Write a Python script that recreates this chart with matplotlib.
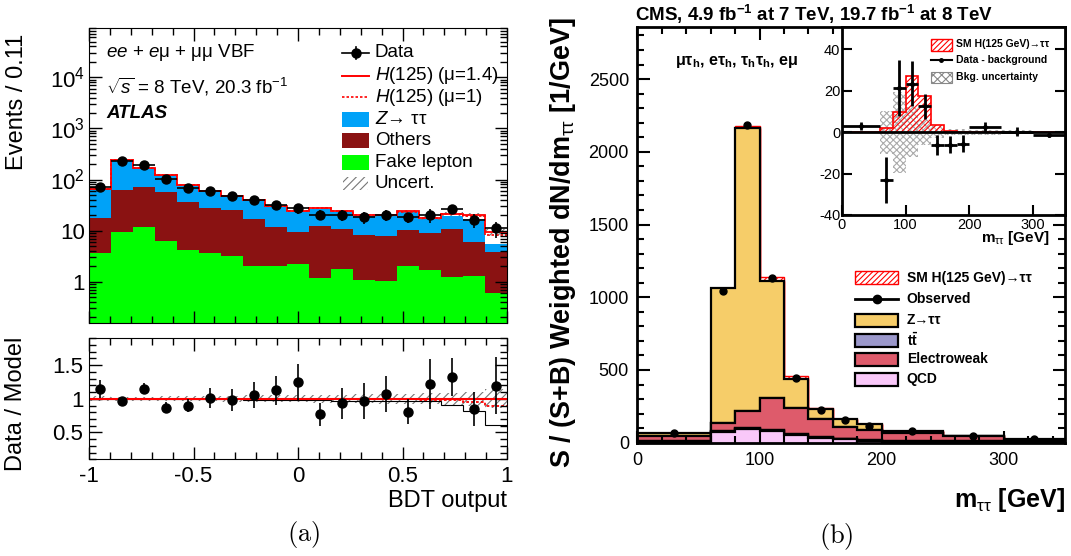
import numpy as np
import matplotlib
matplotlib.use('Agg')
import matplotlib.pyplot as plt
from matplotlib.patches import Rectangle
from matplotlib.lines import Line2D
from matplotlib.ticker import MultipleLocator, FixedLocator, FuncFormatter, LogLocator, NullFormatter

plt.rcParams['font.family'] = ['Liberation Sans', 'DejaVu Sans']
plt.rcParams['mathtext.fontset'] = 'custom'
plt.rcParams['mathtext.rm'] = 'Liberation Sans'
plt.rcParams['mathtext.it'] = 'Liberation Sans:italic'
plt.rcParams['mathtext.bf'] = 'Liberation Sans:bold'
plt.rcParams['axes.unicode_minus'] = False
plt.rcParams['hatch.linewidth'] = 0.8

# ---------------- data: (a) ATLAS BDT output ----------------
bdt_edges = np.linspace(-1, 1, 20)
fake = [3.6, 9.3, 12, 6.4, 4.2, 3.6, 3.2, 2.0, 2.0, 2.2, 1.2, 1.75, 1.1, 1.03, 2.0, 1.7, 1.25, 1.3, 0.59]
others = [13.9, 53.7, 58, 49.6, 32.8, 24.4, 21.8, 15, 9.6, 7.4, 11.2, 8.85, 7.1, 6.97, 8.3, 7.2, 9.35, 4.6, 3.31]
ztautau = [48.5, 177, 100, 66, 40, 32, 22, 22, 17.9, 13.9, 14.6, 12.9, 11.3, 11.5, 12.7, 8.1, 8.9, 10.8, 1.7]
higgs_mu1 = [0.3, 0.6, 0.5, 0.4, 0.4, 0.3, 0.3, 0.3, 0.3, 0.4, 0.5, 0.5, 0.5, 0.5, 0.6, 0.5, 1.3, 2.7, 2.6]
data_a = [70, 232, 194, 101, 67.6, 60, 47.9, 40, 31.9, 27.4, 20.3, 20.3, 18.3, 20.3, 18.3, 20.3, 26.6, 16.2, 11.1]
ratio_a = [1.145, 0.96, 1.15, 0.87, 0.90, 1.01, 0.985, 1.06, 1.125, 1.255, 0.77, 0.935, 0.97, 1.075, 0.81, 1.215, 1.325, 0.845, 1.195]
ratio_err = [0.13, 0.04, 0.08, 0.075, 0.10, 0.15, 0.16, 0.19, 0.21, 0.27, 0.17, 0.23, 0.27, 0.27, 0.18, 0.37, 0.285, 0.25, 0.425]
unc_rel = [0.04, 0.03, 0.03, 0.04, 0.04, 0.04, 0.045, 0.05, 0.05, 0.055, 0.06, 0.06, 0.065, 0.07, 0.075, 0.08, 0.09, 0.10, 0.14]
mu_fit = 1.4

# ---------------- data: (b) CMS m_tautau ----------------
m_edges = [0, 60, 80, 100, 120, 140, 160, 180, 200, 250, 300, 350]
qcd = [2, 76, 92, 80, 53, 32, 23, 14, 5, 3, 1]
ttbar = [12, 6, 8, 10, 8, 6, 4, 3, 10, 10, 5]
ewk = [30, 56, 120, 215, 180, 123, 83, 70, 50, 30, 12]
ztt_b = [20, 925, 1945, 809, 197, 72, 50, 39, 18, 5, 5]
sm_h = [0, 2, 10, 27, 17.5, 3.4, 0.6, 0, 0, 0, 0]
observed = [68, 1041, 2183, 1132, 445, 223, 154, 117, 80, 46, 23]
diff_b = [3, -23, 21.5, 23.5, 12.5, -6, -6, -5.5, 2.5, 0.3, -1.2]
diff_err = [2, 11, 13.5, 10.8, 6.2, 4.8, 4, 4, 2.5, 2, 1]
bkg_unc = [0.5, 10.5, 19.5, 12, 6, 3, 1.5, 1.5, 1.2, 1.0, 0.5]

W, H = 1071, 556
fig = plt.figure(figsize=(W / 100, H / 100), dpi=100)


def rect(l, t, r, b):
    return [l / W, 1 - b / H, (r - l) / W, (b - t) / H]


def fig_rect(x0, y0, x1, y1, **kw):
    fig.add_artist(Rectangle((x0 / W, 1 - y1 / H), (x1 - x0) / W, (y1 - y0) / H,
                             transform=fig.transFigure, **kw))


def fig_line(xs, ys, **kw):
    fig.add_artist(Line2D([x / W for x in xs], [1 - y / H for y in ys],
                          transform=fig.transFigure, **kw))


def fig_text(x, y, s, **kw):
    fig.text(x / W, 1 - y / H, s, **kw)


# ================= (a) top panel =================
e = bdt_edges
cen = 0.5 * (e[:-1] + e[1:])
hw = 0.5 * (e[1:] - e[:-1])
fk = np.array(fake)
ot = fk + np.array(others)
zt = ot + np.array(ztautau)
hg = np.array(higgs_mu1)
tot14 = zt + mu_fit * hg
tot1 = zt + hg
unc = np.array(unc_rel)

ax1 = fig.add_axes(rect(89, 28, 507, 323))
ax1.set_yscale('log')
ax1.set_xlim(-1, 1)
ax1.set_ylim(0.156, 9.2e4)
ax1.stairs(fk, e, baseline=1e-3, fill=True, color='#00ff00', lw=0)
ax1.stairs(ot, e, baseline=fk, fill=True, color='#8a1212', lw=0)
ax1.stairs(zt, e, baseline=ot, fill=True, color='#00a2f8', lw=0)
ax1.stairs(tot14 * (1 + unc), e, baseline=tot14 * (1 - unc), fill=True, facecolor='none',
           edgecolor='#777777', hatch='////', lw=0)
ax1.stairs(tot1, e, baseline=None, color='red', lw=1.2, ls=(0, (1.5, 1.2)))
ax1.stairs(tot14, e, baseline=None, color='red', lw=1.3)
d = np.array(data_a)
r = np.array(ratio_a)
derr = d * np.array(ratio_err) / r
ax1.errorbar(cen, d, yerr=derr, xerr=hw, fmt='o', color='k', ms=6.5, elinewidth=1.2, capsize=0)


def logfmt(v, p):
    if v == 1:
        return '1'
    if v == 10:
        return '10'
    return r'10$^{%d}$' % int(round(np.log10(v)))


ax1.yaxis.set_major_locator(FixedLocator([1, 10, 100, 1000, 1e4]))
ax1.yaxis.set_major_formatter(FuncFormatter(logfmt))
ax1.yaxis.set_minor_locator(LogLocator(base=10, subs=np.arange(2, 10)))
ax1.yaxis.set_minor_formatter(NullFormatter())
ax1.xaxis.set_major_locator(MultipleLocator(0.5))
ax1.xaxis.set_minor_locator(MultipleLocator(0.1))
ax1.tick_params(which='both', direction='in', top=True, right=True, labelbottom=False,
                labelsize=16, pad=3, width=1)
ax1.tick_params(which='major', length=9)
ax1.tick_params(which='minor', length=5)
ax1.set_ylabel('Events / 0.11', fontsize=17)

# texts
fig_text(106, 52.7, r'$ee$ + $e$μ + μμ VBF', fontsize=13.5, va='center')
fig_text(106, 87, r'$\sqrt{s}$ = 8 TeV, 20.3 fb$^{-1}$', fontsize=13.5, va='center')
fig_text(106, 113, 'ATLAS', fontsize=13.5, va='center', fontweight='bold', fontstyle='italic')

# legend (a)
lx0, lx1, tx = 342, 369, 375
rows = [52.7, 76, 97, 119.8, 140.5, 162.7, 183.8]
fig_line([lx0, lx1], [rows[0]] * 2, color='k', lw=1.2)
fig_line([355.5, 355.5], [rows[0] - 6, rows[0] + 6], color='k', lw=1.2)
fig_line([355.5], [rows[0]], color='k', marker='o', ms=6.5, lw=0)
fig_line([lx0, lx1], [rows[1]] * 2, color='red', lw=1.4)
fig_line([lx0, lx1], [rows[2]] * 2, color='red', lw=1.2, ls=(0, (1.5, 1.2)))
fig_rect(lx0, rows[3] - 7.5, lx1, rows[3] + 7.5, facecolor='#00a2f8', lw=0)
fig_rect(lx0, rows[4] - 7.5, lx1, rows[4] + 7.5, facecolor='#8a1212', lw=0)
fig_rect(lx0, rows[5] - 7.5, lx1, rows[5] + 7.5, facecolor='#00ff00', lw=0)
fig_rect(lx0 + 1, rows[6] - 6.5, lx1 - 1, rows[6] + 6.5, facecolor='none', edgecolor='#777777',
         hatch='////', lw=0)
labs = ['Data', r'$H$(125) (μ=1.4)', r'$H$(125) (μ=1)', r'$Z$→ ττ', 'Others', 'Fake lepton', 'Uncert.']
for y, s in zip(rows, labs):
    fig_text(tx, y, s, fontsize=13.5, va='center')

# ================= (a) ratio panel =================
ax2 = fig.add_axes(rect(89, 338.3, 507, 459.3))
ax2.set_xlim(-1, 1)
ax2.set_ylim(0.1, 1.9)
ax2.stairs(1 + unc, e, baseline=1 - unc, fill=True, facecolor='none', edgecolor='#777777',
           hatch='////', lw=0)
ax2.stairs(zt / tot14, e, baseline=None, color='k', lw=0.8)
ax2.stairs(tot1 / tot14, e, baseline=None, color='red', lw=1.3, ls=(0, (1.5, 1.2)))
ax2.axhline(1, color='red', lw=1.5)
ax2.errorbar(cen, r, yerr=ratio_err, fmt='o', color='k', ms=6.5, elinewidth=1.2, capsize=0)
ax2.xaxis.set_major_locator(MultipleLocator(0.5))
ax2.xaxis.set_minor_locator(MultipleLocator(0.1))
ax2.yaxis.set_major_locator(FixedLocator([0.5, 1, 1.5]))
ax2.yaxis.set_minor_locator(MultipleLocator(0.1))
ax2.xaxis.set_major_formatter(FuncFormatter(lambda v, p: '%g' % v))
ax2.yaxis.set_major_formatter(FuncFormatter(lambda v, p: '%g' % v))
ax2.tick_params(which='both', direction='in', top=True, right=True, labelsize=16, width=1)
ax2.tick_params(axis='x', pad=5)
ax2.tick_params(axis='y', pad=4)
ax2.tick_params(which='major', length=9)
ax2.tick_params(which='minor', length=5)
ax2.set_ylabel('Data / Model', fontsize=17)
ax2.set_xlabel('BDT output', fontsize=17, loc='right', labelpad=2)

# ================= (b) main panel =================
me = np.array(m_edges, dtype=float)
mc = 0.5 * (me[:-1] + me[1:])
mhw = 0.5 * (me[1:] - me[:-1])
c_q = np.array(qcd, dtype=float)
c_t = c_q + np.array(ttbar)
c_e = c_t + np.array(ewk)
c_z = c_e + np.array(ztt_b)
c_h = c_z + np.array(sm_h)

ax3 = fig.add_axes(rect(637.3, 26.7, 1065, 442.7))
ax3.set_xlim(0, 350)
ax3.set_ylim(0, 2860)
elw = 1.6
ax3.stairs(c_h, me, baseline=c_z, fill=True, facecolor='white', edgecolor='red', hatch='//////', lw=1.0)
ax3.stairs(c_z, me, baseline=c_e, fill=True, facecolor='#f6cd69', edgecolor='k', lw=elw)
ax3.stairs(c_e, me, baseline=c_t, fill=True, facecolor='#de5b6b', edgecolor='k', lw=elw)
ax3.stairs(c_t, me, baseline=c_q, fill=True, facecolor='#9b98cb', edgecolor='k', lw=elw)
ax3.stairs(c_q, me, baseline=0, fill=True, facecolor='#f9c8f9', edgecolor='k', lw=elw)
ax3.plot(mc, observed, 'o', color='k', ms=5)
ax3.xaxis.set_major_locator(MultipleLocator(100))
ax3.xaxis.set_minor_locator(MultipleLocator(20))
ax3.yaxis.set_major_locator(MultipleLocator(500))
ax3.yaxis.set_minor_locator(MultipleLocator(100))
ax3.tick_params(which='both', direction='in', top=True, right=True, labelsize=13, width=1.5)
ax3.tick_params(which='major', length=9)
ax3.tick_params(which='minor', length=5)
ax3.tick_params(axis='x', pad=7)
ax3.tick_params(axis='y', pad=6)
for s in ax3.spines.values():
    s.set_linewidth(2)
ax3.set_ylabel(r'S / (S+B) Weighted dN/dm$_{\mathrm{ττ}}$ [1/GeV]', fontsize=18, fontweight='bold')
ax3.set_xlabel(r'm$_{\mathrm{ττ}}$ [GeV]', fontsize=18, fontweight='bold', loc='right', labelpad=12)

fig_text(635, 14, r'CMS, 4.9 fb$^{\mathbf{-1}}$ at 7 TeV, 19.7 fb$^{\mathbf{-1}}$ at 8 TeV',
         fontsize=13.5, fontweight='bold', va='center', ha='left')
fig_text(675, 62, r'μτ$_{\mathbf{h}}$, eτ$_{\mathbf{h}}$, τ$_{\mathbf{h}}$τ$_{\mathbf{h}}$, eμ',
         fontsize=11.5, fontweight='bold', va='center', ha='left')

# legend (b)
bx0, bx1, btx = 855, 898, 906.7
brows = [277.7, 299.3, 320, 340, 359.3, 379]
fig_rect(bx0, brows[0] - 6.5, bx1, brows[0] + 6.5, facecolor='white', edgecolor='red', hatch='//////', lw=1.0)
fig_line([bx0, bx1], [brows[1]] * 2, color='k', lw=2)
fig_line([876.5], [brows[1]], color='k', marker='o', ms=6, lw=0)
for y, c in zip(brows[2:], ['#f6cd69', '#9b98cb', '#de5b6b', '#f9c8f9']):
    fig_rect(bx0, y - 6.5, bx1, y + 6.5, facecolor=c, edgecolor='k', lw=1.6)
blabs = ['SM H(125 GeV)→ττ', 'Observed', 'Z→ττ', r't$\mathbf{\bar{t}}$', 'Electroweak', 'QCD']
for y, s in zip(brows, blabs):
    fig_text(btx, y, s, fontsize=10, fontweight='bold', va='center')

# ================= (b) inset =================
ax4 = fig.add_axes(rect(841.7, 26.7, 1065, 215))
ax4.set_xlim(0, 350)
ax4.set_ylim(-40, 51)
bu = np.array(bkg_unc)
ax4.stairs(bu, me, baseline=-bu, fill=True, facecolor='white', edgecolor='#aaaaaa', hatch='xxxxx', lw=0)
ax4.stairs(sm_h, me, baseline=0, fill=True, facecolor='none', edgecolor='red', hatch='//////', lw=1.2)
ax4.axhline(0, color='k', lw=2)
ax4.errorbar(mc, diff_b, yerr=diff_err, xerr=mhw, fmt='o', color='k', ms=2.5, elinewidth=2, capsize=0)
ax4.xaxis.set_major_locator(MultipleLocator(100))
ax4.xaxis.set_minor_locator(MultipleLocator(20))
ax4.yaxis.set_major_locator(MultipleLocator(20))
ax4.yaxis.set_major_formatter(FuncFormatter(lambda v, p: '%g' % v))
ax4.tick_params(which='both', direction='in', top=False, right=True, labelsize=10.5, width=1.5)
ax4.tick_params(which='major', length=7)
ax4.tick_params(which='minor', length=0)
ax4.tick_params(axis='x', pad=2)
ax4.tick_params(axis='y', pad=1)
for s in ax4.spines.values():
    s.set_linewidth(2)
fig_text(1050, 238, r'm$_{\mathrm{ττ}}$ [GeV]', fontsize=11, fontweight='bold', va='center', ha='right')
# inset legend
ix0, ix1, itx = 930.7, 951.7, 956
fig_rect(ix0, 39.3, ix1, 50.7, facecolor='white', edgecolor='red', hatch='//////', lw=1.0)
fig_line([ix0, ix1], [60.3] * 2, color='k', lw=1.5)
fig_line([941.2], [60.3], color='k', marker='o', ms=2.5, lw=0)
fig_rect(ix0, 72, ix1, 83.3, facecolor='white', edgecolor='#888888', hatch='xxxx', lw=0.8)
for y, s in zip([44.3, 60.3, 77.3], ['SM H(125 GeV)→ττ', 'Data - background', 'Bkg. uncertainty']):
    fig_text(itx, y, s, fontsize=7.5, fontweight='bold', va='center')

# captions
fig_text(303.5, 535, r'$\mathrm{(a)}$', fontsize=19, ha='center', va='center', math_fontfamily='cm')
fig_text(836.7, 536.7, r'$\mathrm{(b)}$', fontsize=19, ha='center', va='center', math_fontfamily='cm')


# ---- place y labels given the pixel box they occupy in the reference
def place_ylabel(ax, right_px, top_px, bot_px, fit):
    lab = ax.yaxis.label
    pos = ax.get_position()
    axl, axh, axw = pos.x0 * W, pos.height * H, pos.width * W
    ax.yaxis.set_label_coords((right_px - axl) / axw, 0.5)
    fig.canvas.draw()
    bb = lab.get_window_extent()
    if fit:
        lab.set_fontsize(lab.get_fontsize() * (bot_px - top_px) / bb.height)
        fig.canvas.draw()
        bb = lab.get_window_extent()
    cur_c = H - 0.5 * (bb.y0 + bb.y1)
    tgt_c = 0.5 * (top_px + bot_px)
    x_ax = (right_px - axl) / axw + (right_px - bb.x1) / axw
    y_ax = 0.5 - (tgt_c - cur_c) / axh
    ax.yaxis.set_label_coords(x_ax, y_ax)


place_ylabel(ax1, 28, 33, 170, False)
place_ylabel(ax2, 27, 337, 470, False)
place_ylabel(ax3, 578, 17, 468, True)

fig.savefig('out.png', dpi=100)
